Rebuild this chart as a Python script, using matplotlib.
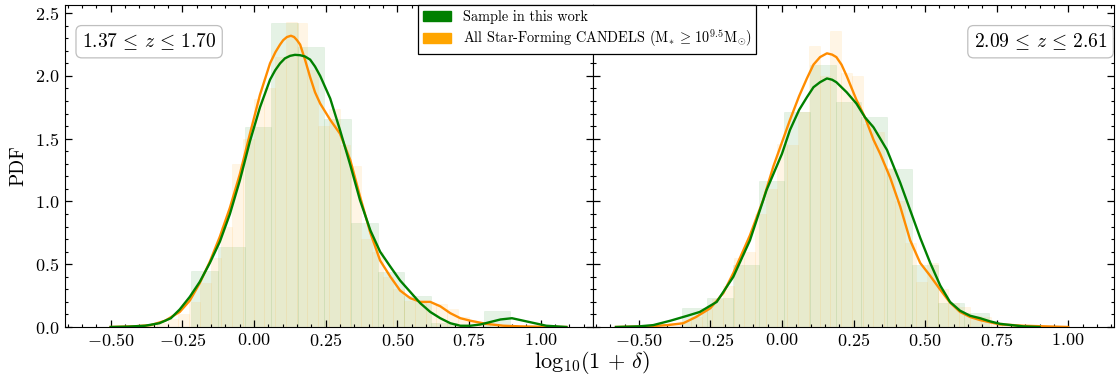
import matplotlib
matplotlib.use('Agg')
import matplotlib.pyplot as plt
from matplotlib.patches import Patch
from matplotlib.ticker import MultipleLocator, FormatStrFormatter

plt.rcParams['font.family'] = 'serif'
plt.rcParams['font.serif'] = ['cmr10']
plt.rcParams['mathtext.fontset'] = 'cm'
plt.rcParams['axes.unicode_minus'] = False

# ---- data ----
LABELS = ['Sample in this work',
          r'All Star-Forming CANDELS ($\mathrm{M}_{*}\,\geq\,10^{9.5}\mathrm{M}_{\odot}$)']
ZBINS = [r'$1.37\,\leq\,z\,\leq\,1.70$', r'$2.09\,\leq\,z\,\leq\,2.61$']

# left panel histograms
green_edges_lo = [-0.2185, -0.126, -0.033, 0.060, 0.153, 0.245, 0.338, 0.431, 0.524,
                  0.616, 0.709, 0.802, 0.894]
green_hist_lo = [0.45, 0.64, 1.59, 2.42, 2.23, 1.66, 0.83, 0.44, 0.25, 0.03, 0.0, 0.13]

orange_edges_lo = [-0.451, -0.4135, -0.376, -0.3385, -0.301, -0.2635, -0.226, -0.1885,
                   -0.151, -0.1135, -0.076, -0.0385, -0.001, 0.0365, 0.074, 0.1115, 0.149,
                   0.1865, 0.224, 0.2615, 0.299, 0.3365, 0.374, 0.4115, 0.449, 0.4865,
                   0.524, 0.5615, 0.599, 0.6365, 0.674, 0.7115, 0.749, 0.7865, 0.824,
                   0.8615, 0.899, 0.9365, 0.974, 1.0115]
orange_hist_lo = [0.005, 0.01, 0.02, 0.03, 0.06, 0.10, 0.20, 0.35, 0.55, 0.80, 1.30, 1.50,
                  1.82, 1.90, 2.15, 2.43, 2.42, 2.05, 1.60, 1.74, 1.45, 1.28, 0.70, 0.60,
                  0.40, 0.30, 0.21, 0.20, 0.18, 0.18, 0.14, 0.08, 0.04, 0.03, 0.02, 0.01,
                  0.01, 0.005, 0.005]

# right panel histograms
green_edges_hi = [-0.35, -0.2605, -0.171, -0.0815, 0.008, 0.0975, 0.187, 0.2765, 0.366,
                  0.4555, 0.545, 0.6345, 0.724]
green_hist_hi = [0.15, 0.23, 0.49, 1.16, 1.71, 2.09, 1.79, 1.67, 1.26, 0.49, 0.19, 0.11]

orange_edges_hi = [-0.5435, -0.506, -0.4685, -0.431, -0.3935, -0.356, -0.3185, -0.281,
                   -0.2435, -0.206, -0.1685, -0.131, -0.0935, -0.056, -0.0185, 0.019, 0.0565,
                   0.094, 0.1315, 0.169, 0.2065, 0.244, 0.2815, 0.319, 0.3565, 0.394, 0.4315,
                   0.469, 0.5065, 0.544, 0.5815, 0.619, 0.6565, 0.694, 0.7315, 0.769, 0.8065,
                   0.844, 0.8815, 0.919, 0.9565, 0.994]
orange_hist_hi = [0.003, 0.005, 0.01, 0.015, 0.03, 0.05, 0.08, 0.14, 0.22, 0.33, 0.55, 0.60,
                  0.90, 1.10, 1.46, 1.45, 1.71, 2.24, 2.00, 2.36, 2.02, 2.00, 1.62, 1.55,
                  1.27, 1.00, 0.67, 0.36, 0.51, 0.30, 0.19, 0.16, 0.09, 0.08, 0.04, 0.03,
                  0.015, 0.01, 0.005, 0.003, 0.002]

# KDE curves (sample / all CANDELS)
kde_green_lo_x = [-0.50, -0.44, -0.38, -0.33, -0.29, -0.259, -0.224, -0.189, -0.154, -0.119,
                  -0.084, -0.049, -0.014, 0.021, 0.056, 0.074, 0.091, 0.108, 0.126, 0.143,
                  0.161, 0.178, 0.196, 0.213, 0.231,
                  0.266, 0.30, 0.336, 0.37, 0.406, 0.44, 0.476, 0.51, 0.545, 0.58, 0.615,
                  0.65, 0.685, 0.72, 0.755, 0.79, 0.825, 0.86, 0.90, 0.94, 0.98, 1.02, 1.09]
kde_green_lo_y = [0.0, 0.003, 0.01, 0.03, 0.07, 0.14, 0.24, 0.36, 0.51, 0.68,
                  0.90, 1.17, 1.48, 1.75, 1.97, 2.045, 2.10, 2.14, 2.16, 2.168,
                  2.165, 2.155, 2.13, 2.075, 2.0,
                  1.82, 1.57, 1.29, 1.01, 0.77, 0.60, 0.48, 0.37, 0.28, 0.19, 0.12,
                  0.07, 0.03, 0.01, 0.01, 0.02, 0.04, 0.06, 0.07, 0.05, 0.03, 0.01, 0.0]

kde_orange_lo_x = [-0.50, -0.42, -0.36, -0.31, -0.259, -0.224, -0.189, -0.154, -0.119,
                   -0.084, -0.049, -0.014, 0.021, 0.056, 0.075, 0.091, 0.102, 0.115, 0.129,
                   0.140, 0.150, 0.161, 0.178, 0.196, 0.213, 0.231, 0.266, 0.30, 0.336, 0.37,
                   0.406, 0.44, 0.476, 0.51, 0.545, 0.58, 0.615, 0.65, 0.685, 0.72, 0.755,
                   0.81, 0.87, 0.93, 1.02, 1.09]
kde_orange_lo_y = [0.0, 0.005, 0.015, 0.05, 0.12, 0.21, 0.35, 0.52, 0.72,
                   0.95, 1.22, 1.54, 1.85, 2.10, 2.19, 2.25, 2.285, 2.31, 2.32,
                   2.31, 2.285, 2.25, 2.13, 1.99, 1.87, 1.78, 1.65, 1.54, 1.33, 1.04,
                   0.75, 0.53, 0.40, 0.29, 0.23, 0.20, 0.20, 0.165, 0.11, 0.07, 0.05,
                   0.025, 0.01, 0.005, 0.001, 0.0]

kde_green_hi_x = [-0.58, -0.50, -0.45, -0.39, -0.33, -0.287, -0.228, -0.17, -0.112, -0.054,
                  0.0, 0.028, 0.060, 0.087, 0.110, 0.133, 0.157, 0.175, 0.19, 0.226, 0.26,
                  0.29, 0.32, 0.367, 0.413, 0.448, 0.483, 0.518, 0.553, 0.587, 0.622,
                  0.657, 0.692, 0.727, 0.762, 0.843, 0.90]
kde_green_hi_y = [0.0, 0.005, 0.015, 0.05, 0.09, 0.12, 0.20, 0.40, 0.69, 1.09,
                  1.38, 1.57, 1.73, 1.83, 1.91, 1.95, 1.98, 1.97, 1.95, 1.87, 1.78,
                  1.67, 1.59, 1.41, 1.15, 0.93, 0.71, 0.51, 0.33, 0.20, 0.13,
                  0.09, 0.07, 0.045, 0.025, 0.005, 0.0]

kde_orange_hi_x = [-0.58, -0.47, -0.40, -0.345, -0.30, -0.25, -0.205, -0.17, -0.112,
                   -0.066, -0.03, 0.028, 0.060, 0.087, 0.110, 0.133, 0.157, 0.175, 0.19,
                   0.208, 0.226, 0.26, 0.29, 0.32, 0.343, 0.378, 0.413, 0.448, 0.483,
                   0.517, 0.552, 0.587, 0.622, 0.657, 0.692, 0.762, 0.843, 1.0]
kde_orange_hi_y = [0.0, 0.005, 0.015, 0.03, 0.08, 0.15, 0.27, 0.43, 0.73,
                   1.01, 1.28, 1.65, 1.84, 1.98, 2.09, 2.15, 2.18, 2.17, 2.15,
                   2.09, 2.0, 1.81, 1.67, 1.49, 1.38, 1.19, 0.96, 0.69, 0.51,
                   0.41, 0.30, 0.195, 0.12, 0.08, 0.055, 0.02, 0.01, 0.0]

GREEN = 'green'
ORANGE = 'orange'
ORANGE_LINE = 'darkorange'

W, H = 1117, 376
fig = plt.figure(figsize=(W / 100, H / 100), dpi=100)
ax1 = fig.add_axes([64.5 / W, 1 - 327 / H, 528 / W, 322 / H])
ax2 = fig.add_axes([592.5 / W, 1 - 327 / H, 521.5 / W, 322 / H])

panels = [
    (ax1, green_edges_lo, green_hist_lo, orange_edges_lo, orange_hist_lo,
     kde_green_lo_x, kde_green_lo_y, kde_orange_lo_x, kde_orange_lo_y, (-0.661, 1.181)),
    (ax2, green_edges_hi, green_hist_hi, orange_edges_hi, orange_hist_hi,
     kde_green_hi_x, kde_green_hi_y, kde_orange_hi_x, kde_orange_hi_y, (-0.662, 1.160)),
]

for ax, ge, gh, oe, oh, gx, gy, ox, oy, xl in panels:
    ax.hist(ge[:-1], bins=ge, weights=gh, color=GREEN, alpha=0.1,
            edgecolor=GREEN, linewidth=0.4)
    ax.hist(oe[:-1], bins=oe, weights=oh, color=ORANGE, alpha=0.1,
            edgecolor=ORANGE, linewidth=0.4)
    ax.plot(ox, oy, color=ORANGE_LINE, lw=1.7)
    ax.plot(gx, gy, color=GREEN, lw=1.7)
    ax.set_xlim(*xl)
    ax.set_ylim(0, 2.565)
    ax.xaxis.set_major_locator(MultipleLocator(0.25))
    ax.xaxis.set_minor_locator(MultipleLocator(0.05))
    ax.yaxis.set_major_locator(MultipleLocator(0.5))
    ax.yaxis.set_minor_locator(MultipleLocator(0.1))
    ax.xaxis.set_major_formatter(FormatStrFormatter(r'$%.2f$'))
    ax.yaxis.set_major_formatter(FormatStrFormatter(r'$%.1f$'))
    ax.tick_params(which='both', direction='in', top=True, right=True, labelsize=13)
    ax.tick_params(which='major', length=5, width=0.9)
    ax.tick_params(which='minor', length=2.5, width=0.8)

ax2.tick_params(labelleft=False)
ax1.set_ylabel('PDF', fontsize=14, labelpad=6)

box = dict(boxstyle='round,pad=0.3', facecolor='white', edgecolor='0.75', linewidth=0.9)
ax1.text(0.0328, 0.918, ZBINS[0], transform=ax1.transAxes, ha='left', va='top',
         fontsize=14, bbox=box)
ax2.text(0.9875, 0.918, ZBINS[1], transform=ax2.transAxes, ha='right', va='top',
         fontsize=14, bbox=box)

handles = [Patch(color=GREEN), Patch(color=ORANGE)]
leg = fig.legend(handles, LABELS, loc='upper left', bbox_to_anchor=(418 / W, 1 - 5 / H),
                 bbox_transform=fig.transFigure, borderaxespad=0, fontsize=10.3,
                 labelspacing=0.28, borderpad=0.32,
                 fancybox=False, framealpha=1, edgecolor='black')
leg.get_frame().set_linewidth(0.9)

fig.text(592.5 / W, 1 - 362 / H, r'$\mathrm{log}_{10}(1\,+\,\delta)$', ha='center',
         va='center', fontsize=16)

fig.savefig('out.png', dpi=100)
